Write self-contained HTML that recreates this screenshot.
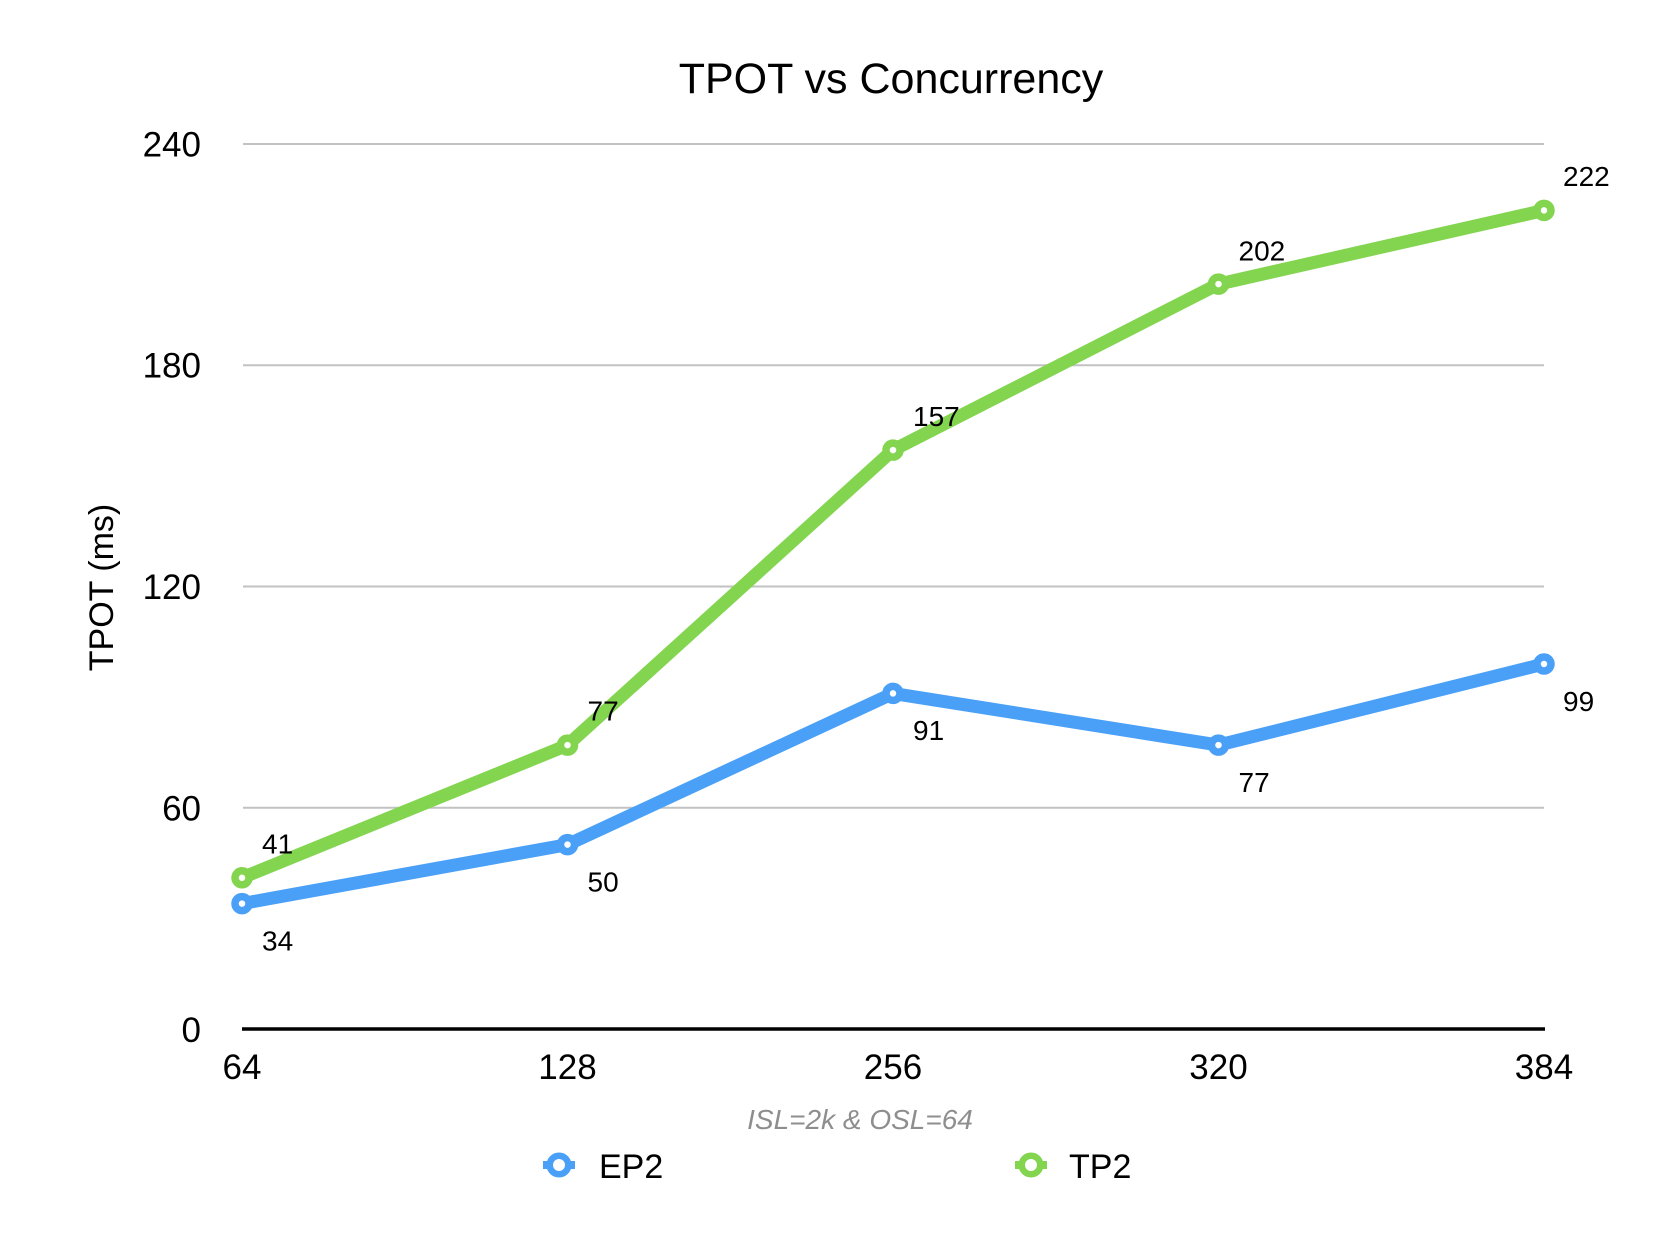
<!DOCTYPE html>
<html>
<head>
<meta charset="utf-8">
<style>
  html, body { margin: 0; padding: 0; background: #ffffff; }
  svg { display: block; }
  text { font-family: "Liberation Sans", Arial, Helvetica, sans-serif; }
</style>
</head>
<body>
<svg width="1680" height="1248" viewBox="0 0 1680 1248" xmlns="http://www.w3.org/2000/svg">
  <rect x="0" y="0" width="1680" height="1248" fill="#ffffff"/>

  <!-- Title -->
  <text x="891" y="93" font-size="43" text-anchor="middle" fill="#000">TPOT vs Concurrency</text>

  <!-- Gridlines -->
  <g stroke="#c2c2c2" stroke-width="2">
    <line x1="243" y1="144" x2="1544" y2="144"/>
    <line x1="243" y1="365.25" x2="1544" y2="365.25"/>
    <line x1="243" y1="586.5" x2="1544" y2="586.5"/>
    <line x1="243" y1="807.75" x2="1544" y2="807.75"/>
  </g>
  <!-- Baseline axis -->
  <line x1="242" y1="1029" x2="1545" y2="1029" stroke="#000" stroke-width="3.5"/>

  <!-- Y tick labels -->
  <g font-size="35" text-anchor="end" fill="#000">
    <text x="201" y="156.5">240</text>
    <text x="201" y="377.5">180</text>
    <text x="201" y="599">120</text>
    <text x="201" y="820.5">60</text>
    <text x="201" y="1042">0</text>
  </g>

  <!-- X tick labels -->
  <g font-size="35" text-anchor="middle" fill="#000">
    <text x="242" y="1079">64</text>
    <text x="567.5" y="1079">128</text>
    <text x="893" y="1079">256</text>
    <text x="1218.5" y="1079">320</text>
    <text x="1544" y="1079">384</text>
  </g>

  <!-- Y axis title -->
  <text transform="translate(113,587.5) rotate(-90)" font-size="34" text-anchor="middle" fill="#000">TPOT (ms)</text>

  <!-- X subtitle -->
  <text x="860" y="1129" font-size="28" font-style="italic" text-anchor="middle" fill="#8e8e8e">ISL=2k &amp; OSL=64</text>

  <!-- TP2 series -->
  <polyline fill="none" stroke="#83d550" stroke-width="13" stroke-linejoin="round" stroke-linecap="round"
    points="242,877.8 567.5,745.1 893,450.1 1218.5,284.1 1544,210.4"/>
  <g fill="#ffffff" stroke="#83d550" stroke-width="7.5">
    <circle cx="242" cy="877.8" r="7"/>
    <circle cx="567.5" cy="745.1" r="7"/>
    <circle cx="893" cy="450.1" r="7"/>
    <circle cx="1218.5" cy="284.1" r="7"/>
    <circle cx="1544" cy="210.4" r="7"/>
  </g>

  <!-- EP2 series -->
  <polyline fill="none" stroke="#4aa0f7" stroke-width="13" stroke-linejoin="round" stroke-linecap="round"
    points="242,903.6 567.5,844.6 893,693.4 1218.5,745.1 1544,664"/>
  <g fill="#ffffff" stroke="#4aa0f7" stroke-width="7.5">
    <circle cx="242" cy="903.6" r="7"/>
    <circle cx="567.5" cy="844.6" r="7"/>
    <circle cx="893" cy="693.4" r="7"/>
    <circle cx="1218.5" cy="745.1" r="7"/>
    <circle cx="1544" cy="664" r="7"/>
  </g>

  <!-- Data labels TP2 (above) -->
  <g font-size="28" fill="#000">
    <text x="262" y="853.5">41</text>
    <text x="587.5" y="720.5">77</text>
    <text x="913" y="426">157</text>
    <text x="1238.5" y="260.5">202</text>
    <text x="1563" y="186">222</text>
  </g>
  <!-- Data labels EP2 (below) -->
  <g font-size="28" fill="#000">
    <text x="262" y="950.5">34</text>
    <text x="587.5" y="891.5">50</text>
    <text x="913" y="740">91</text>
    <text x="1238.5" y="792">77</text>
    <text x="1563" y="711">99</text>
  </g>

  <!-- Legend -->
  <g>
    <line x1="543" y1="1165" x2="575" y2="1165" stroke="#4aa0f7" stroke-width="8"/>
    <circle cx="559" cy="1165" r="9.25" fill="#ffffff" stroke="#4aa0f7" stroke-width="6.5"/>
    <text x="599" y="1178" font-size="34" fill="#000">EP2</text>

    <line x1="1015" y1="1165" x2="1047" y2="1165" stroke="#83d550" stroke-width="8"/>
    <circle cx="1031" cy="1165" r="9.25" fill="#ffffff" stroke="#83d550" stroke-width="6.5"/>
    <text x="1069" y="1178" font-size="34" fill="#000">TP2</text>
  </g>
</svg>
</body>
</html>
